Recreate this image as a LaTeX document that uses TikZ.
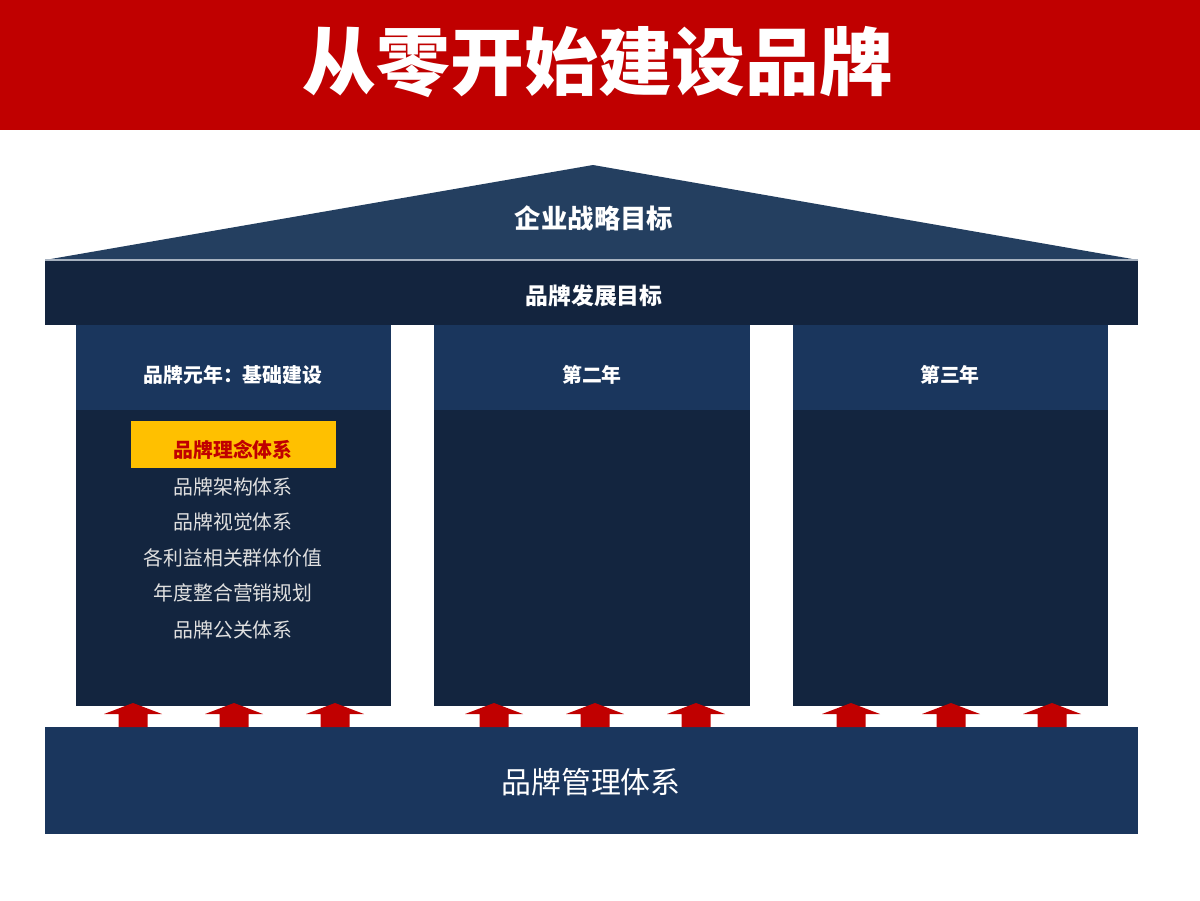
\documentclass[tikz,border=0pt]{standalone}
\usepackage{fontspec}
\setmainfont{Noto Sans CJK SC}
\definecolor{titlered}{HTML}{C00000}
\definecolor{roofblue}{HTML}{243F60}
\definecolor{bandblue}{HTML}{13243E}
\definecolor{headblue}{HTML}{1A365D}
\definecolor{bodyblue}{HTML}{13253F}
\definecolor{arrowred}{HTML}{C00000}
\definecolor{gold}{HTML}{FFC000}
\tikzset{
  whitetext/.style={text=white, font=\bfseries\fontsize{11.3}{13}\selectfont},
  itemtext/.style={text=black!12, font=\fontsize{11.3}{13}\selectfont},
  uparrow/.style={fill=arrowred}
}
\begin{document}
\begin{tikzpicture}[x=0.02cm,y=-0.02cm]
            \useasboundingbox (0,0) rectangle (1200,900);
            \fill[white] (0,0) rectangle (1200,900);

            % title
            \fill[titlered] (0,0) rectangle (1200,130);
            \node[text=white, font=\bfseries\fontsize{42}{44}\selectfont] (title) at (598,62) {从零开始建设品牌};

            % roof and band
            \fill[roofblue] (45,260) -- (593,165) -- (1138,260) -- cycle;
            \fill[bandblue] (45,260) rectangle (1138,325);
            \draw[white!60!roofblue, line width=0.6pt] (45,260) -- (1138,260);

            % columns
            \fill[headblue] (76,325) rectangle (391,410);
            \fill[bodyblue] (76,410) rectangle (391,706);
            \fill[headblue] (434,325) rectangle (750,410);
            \fill[bodyblue] (434,410) rectangle (750,706);
            \fill[headblue] (793,325) rectangle (1108,410);
            \fill[bodyblue] (793,410) rectangle (1108,706);

            \fill[gold] (131,421) rectangle (336,468);

            % base
            \fill[headblue] (45,727) rectangle (1138,834);

            % arrows
            \fill[uparrow] (133,703) -- ++(29,11) -- ++(-14.5,0) -- ++(0,13) -- ++(-29,0) -- ++(0,-13) -- ++(-14.5,0) -- cycle;
            \fill[uparrow] (234,703) -- ++(29,11) -- ++(-14.5,0) -- ++(0,13) -- ++(-29,0) -- ++(0,-13) -- ++(-14.5,0) -- cycle;
            \fill[uparrow] (335,703) -- ++(29,11) -- ++(-14.5,0) -- ++(0,13) -- ++(-29,0) -- ++(0,-13) -- ++(-14.5,0) -- cycle;
            \fill[uparrow] (494,703) -- ++(29,11) -- ++(-14.5,0) -- ++(0,13) -- ++(-29,0) -- ++(0,-13) -- ++(-14.5,0) -- cycle;
            \fill[uparrow] (595,703) -- ++(29,11) -- ++(-14.5,0) -- ++(0,13) -- ++(-29,0) -- ++(0,-13) -- ++(-14.5,0) -- cycle;
            \fill[uparrow] (696,703) -- ++(29,11) -- ++(-14.5,0) -- ++(0,13) -- ++(-29,0) -- ++(0,-13) -- ++(-14.5,0) -- cycle;
            \fill[uparrow] (851,703) -- ++(29,11) -- ++(-14.5,0) -- ++(0,13) -- ++(-29,0) -- ++(0,-13) -- ++(-14.5,0) -- cycle;
            \fill[uparrow] (951,703) -- ++(29,11) -- ++(-14.5,0) -- ++(0,13) -- ++(-29,0) -- ++(0,-13) -- ++(-14.5,0) -- cycle;
            \fill[uparrow] (1052,703) -- ++(29,11) -- ++(-14.5,0) -- ++(0,13) -- ++(-29,0) -- ++(0,-13) -- ++(-14.5,0) -- cycle;

            % texts
            \node[text=white, font=\bfseries\fontsize{15}{17}\selectfont] (goal) at (594,218) {企业战略目标};
            \node[text=white, font=\bfseries\fontsize{13}{15}\selectfont] (brandgoal) at (594,296) {品牌发展目标};

            \node[whitetext] (yearone) at (233,375) {品牌元年：基础建设};
            \node[whitetext] (yeartwo) at (592,375) {第二年};
            \node[whitetext] (yearthree) at (950,375) {第三年};

            \node[text=titlered, font=\bfseries\fontsize{11.3}{13}\selectfont] (idea) at (233,450) {品牌理念体系};
            \node[itemtext] (frame) at (233,487) {品牌架构体系};
            \node[itemtext] (visual) at (233,522) {品牌视觉体系};
            \node[itemtext] (value) at (233,558) {各利益相关群体价值};
            \node[itemtext] (plan) at (233,593) {年度整合营销规划};
            \node[itemtext] (pr) at (233,630) {品牌公关体系};

            \node[text=white, font=\fontsize{17}{19}\selectfont] (manage) at (591,782) {品牌管理体系};
\end{tikzpicture}
\end{document}
